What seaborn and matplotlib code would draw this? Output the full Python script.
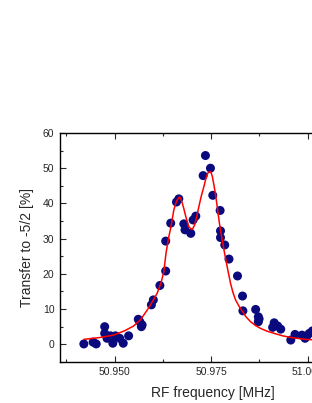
import matplotlib
matplotlib.use('Agg')
import matplotlib.pyplot as plt
import numpy as np
import pandas as pd
import seaborn as sns
from matplotlib.ticker import MultipleLocator, FormatStrFormatter

# measured points (RF frequency in MHz, transfer in %)
freq = [50.9420, 50.9444, 50.9452, 50.9474, 50.9474, 50.9480, 50.9489, 50.9495,
        50.9502, 50.9513, 50.9522, 50.9536, 50.9561, 50.9565, 50.9569, 50.9571,
        50.9595, 50.9600, 50.9617, 50.9632, 50.9632, 50.9645, 50.9660, 50.9666,
        50.9679, 50.9682, 50.9697, 50.9703, 50.9710, 50.9729, 50.9735, 50.9748,
        50.9754, 50.9773, 50.9774, 50.9774, 50.9785, 50.9796, 50.9818, 50.9831,
        50.9832, 50.9865, 50.9872, 50.9874, 50.9872, 50.9909, 50.9913, 50.9922,
        50.9930, 50.9956, 50.9967, 50.9985, 50.9993, 50.9998, 51.0004, 51.0012]
transfer = [0.1, 0.6, 0.1, 5.0, 3.1, 1.7, 2.4, 0.3,
            2.4, 1.7, 0.3, 2.4, 7.1, 6.4, 5.0, 5.5,
            11.2, 12.6, 16.7, 20.8, 29.3, 34.4, 40.4, 41.3,
            34.2, 32.5, 31.5, 35.3, 36.4, 47.9, 53.6, 50.0,
            42.3, 38.0, 32.2, 30.3, 28.2, 24.2, 19.4, 13.7,
            9.5, 9.9, 7.8, 7.2, 6.4, 4.8, 6.1, 5.2,
            4.3, 1.2, 2.8, 2.6, 1.7, 2.4, 3.1, 3.8]

# fit curve
fit_freq = [50.9420, 50.9460, 50.9497, 50.9525, 50.9549, 50.9567, 50.9584, 50.9597,
            50.9610, 50.9620, 50.9627, 50.9633, 50.9640, 50.9645, 50.9653, 50.9658,
            50.9662, 50.9666, 50.9668, 50.9671, 50.9675, 50.9679, 50.9684, 50.9688,
            50.9692, 50.9698, 50.9702, 50.9707, 50.9712, 50.9718, 50.9724, 50.9731,
            50.9736, 50.9741, 50.9744, 50.9747, 50.9750, 50.9753, 50.9757, 50.9762,
            50.9766, 50.9770, 50.9774, 50.9779, 50.9783, 50.9788, 50.9794, 50.9800,
            50.9806, 50.9813, 50.9822, 50.9831, 50.9840, 50.9852, 50.9865, 50.9878,
            50.9895, 50.9913, 50.9935, 50.9958, 50.9994, 51.0040, 51.0100]
fit_transfer = [1.4, 1.9, 2.6, 3.8, 5.2, 7.0, 9.7, 12.0,
                14.5, 17.5, 20.5, 26.0, 30.5, 33.0, 38.1, 40.0,
                41.0, 41.6, 41.8, 41.3, 40.1, 38.5, 36.3, 34.8,
                33.4, 32.7, 32.8, 33.9, 36.0, 39.1, 42.0, 44.8,
                47.0, 48.6, 48.9, 49.0, 48.6, 47.6, 45.2, 41.9,
                38.6, 35.3, 32.3, 29.3, 26.8, 23.9, 20.5, 17.3,
                14.8, 12.6, 10.8, 9.3, 7.8, 6.4, 5.3, 4.5,
                3.7, 3.1, 2.4, 1.9, 1.4, 1.1, 0.9]

pts = pd.DataFrame({'f': freq, 't': transfer})
fit = pd.DataFrame({'f': fit_freq, 't': fit_transfer})

sns.set_theme(style='ticks')
plt.rcParams['font.family'] = ['Liberation Sans', 'DejaVu Sans']

fig = plt.figure(figsize=(3.12, 4.03), dpi=100)
ax = fig.add_axes([0.192, 0.102, 0.98, 0.568])

sns.lineplot(data=fit, x='f', y='t', sort=False, color='red', lw=1.1, ax=ax, zorder=3)
sns.scatterplot(data=pts, x='f', y='t', color='#0a0a7e', s=42, edgecolor='none', ax=ax, zorder=2)

ax.set_xlim(50.9358, 51.015)
ax.set_ylim(-5, 60)
ax.xaxis.set_major_locator(MultipleLocator(0.025))
ax.xaxis.set_minor_locator(MultipleLocator(0.0125))
ax.xaxis.set_major_formatter(FormatStrFormatter('%.3f'))
ax.yaxis.set_major_locator(MultipleLocator(10))
ax.yaxis.set_minor_locator(MultipleLocator(5))
ax.tick_params(which='both', direction='in', top=True, right=False, labelsize=7.5, pad=4)
ax.tick_params(which='major', length=4, width=0.8)
ax.tick_params(which='minor', length=2.5, width=0.8)
for s in ax.spines.values():
    s.set_linewidth(1.0)
    s.set_color('black')

ax.set_xlabel('RF frequency [MHz]', fontsize=10, labelpad=6)
ax.set_ylabel('Transfer to -5/2 [%]', fontsize=10, labelpad=6)

fig.savefig('out.png', dpi=100)
